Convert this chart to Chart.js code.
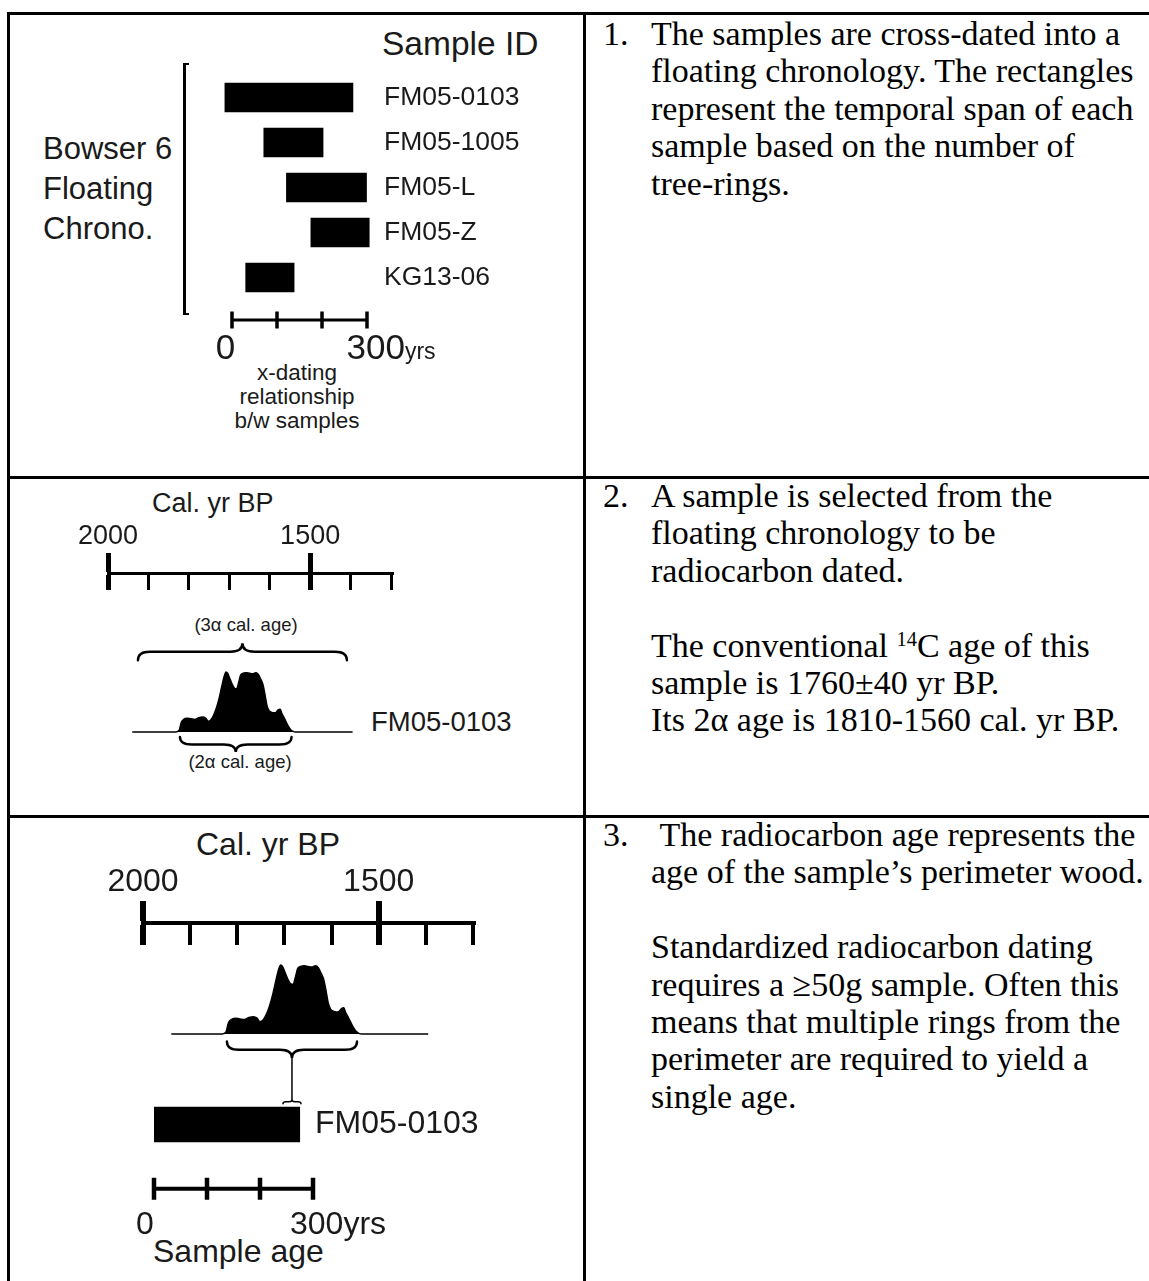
<!DOCTYPE html>
<html lang="en">
<head>
<meta charset="utf-8">
<title>Floating chronology and radiocarbon dating</title>
<script src="https://cdn.jsdelivr.net/npm/chart.js@4.4.1/dist/chart.umd.min.js"></script>
<style>
    html, body { margin: 0; padding: 0; background: #fff; }
    body {
        position: relative; width: 1149px; height: 1281px; overflow: hidden;
        font-family: "Liberation Sans", Arial, sans-serif; color: #1a1a1a;
    }
    .rule { position: absolute; background: #000; }
    .lbl { position: absolute; white-space: nowrap; line-height: 1; }
    .bracket {
        position: absolute; left: 183px; top: 63px; width: 3px; height: 248px;
        border-left: 3px solid #000; border-top: 2px solid #000; border-bottom: 2px solid #000;
    }
    .note {
        position: absolute; left: 603px; white-space: nowrap; color: #000;
        font-family: "Liberation Serif", "Times New Roman", serif; font-size: 34px; line-height: 37.4px;
    }
    .note .num { position: absolute; left: 0; top: 0; }
    .note .body { margin-left: 48px; }
    .note sup { font-size: 0.6em; line-height: 0; vertical-align: 0.55em; }
    canvas { position: absolute; }
</style>
</head>
<body>

<!-- table rules -->
<div class="rule" style="left:7px; top:12px; width:1142px; height:3px"></div>
<div class="rule" style="left:7px; top:476px; width:1142px; height:3px"></div>
<div class="rule" style="left:7px; top:815px; width:1142px; height:3px"></div>
<div class="rule" style="left:7px; top:12px; width:3px; height:1269px"></div>
<div class="rule" style="left:583px; top:12px; width:3px; height:1269px"></div>

<!-- panel 1 -->
<div class="lbl" style="left:382px; top:27px; font-size:33.5px">Sample ID</div>
<div class="lbl" style="left:43px; top:129px; font-size:31px; line-height:40px">Bowser 6<br>Floating<br>Chrono.</div>
<div class="bracket"></div>
<div class="lbl" style="left:197px; width:200px; top:361px; font-size:22.5px; line-height:24px; text-align:center">x-dating<br>relationship<br>b/w samples</div>
<canvas id="chronoChart"></canvas>
<canvas id="chronoScale"></canvas>

<!-- panel 2 -->
<div class="lbl" style="left:152px; top:490px; font-size:27px">Cal. yr BP</div>
<div class="lbl" style="left:146px; width:200px; top:616px; font-size:18.5px; text-align:center">(3α cal. age)</div>
<div class="lbl" style="left:140px; width:200px; top:753px; font-size:18.5px; text-align:center">(2α cal. age)</div>
<div class="lbl" style="left:371px; top:708px; font-size:27.5px">FM05-0103</div>
<canvas id="calAxis2"></canvas>
<canvas id="density2"></canvas>

<!-- panel 3 -->
<div class="lbl" style="left:196px; top:828px; font-size:32px">Cal. yr BP</div>
<div class="lbl" style="left:153px; top:1235px; font-size:32px">Sample age</div>
<canvas id="calAxis3"></canvas>
<canvas id="density3"></canvas>
<canvas id="focusChart"></canvas>
<canvas id="focusScale"></canvas>

<!-- notes -->
<div class="note" style="top:15px">
    <span class="num">1.</span>
    <div class="body">The samples are cross-dated into a<br>floating chronology. The rectangles<br>represent the temporal span of each<br>sample based on the number of<br>tree-rings.</div>
</div>
<div class="note" style="top:477px">
    <span class="num">2.</span>
    <div class="body">A sample is selected from the<br>floating chronology to be<br>radiocarbon dated.<br>&nbsp;<br>The conventional <sup>14</sup>C age of this<br>sample is 1760±40 yr BP.<br>Its 2α age is 1810-1560 cal. yr BP.</div>
</div>
<div class="note" style="top:816px">
    <span class="num">3.</span>
    <div class="body">&nbsp;The radiocarbon age represents the<br>age of the sample’s perimeter wood.<br>&nbsp;<br>Standardized radiocarbon dating<br>requires a ≥50g sample. Often this<br>means that multiple rings from the<br>perimeter are required to yield a<br>single age.</div>
</div>

<script>
// Floating chronology (years on the x-dating scale)
const sampleIds = ['FM05-0103', 'FM05-1005', 'FM05-L', 'FM05-Z', 'KG13-06'];
const sampleStart = [-15, 71, 121, 175, 31];
const sampleEnd = [268, 202, 298, 304, 138];

// Scale bars
const ageTicks = [0, 100, 200, 300];
const ageTickLabels = ['0', '', '', '300'];
const ageUnit = 'yrs';

// Calibrated age axis
const calMin = 1300;
const calMax = 2000;
const calStep = 100;
const calTickLabels = [2000, 1500];

// Calibrated probability of FM05-0103 (relative)
const calYears = [1940, 1832, 1824, 1819, 1813, 1805, 1795, 1785, 1775, 1766,
                  1758, 1752, 1746, 1739, 1732, 1725, 1719, 1713, 1708, 1704,
                  1699, 1693, 1687, 1682, 1677, 1672, 1666, 1658, 1650, 1642,
                  1634, 1628, 1622, 1617, 1612, 1607, 1602, 1596, 1590, 1584,
                  1579, 1574, 1570, 1565, 1560, 1554, 1548, 1542, 1536, 1395];
const calProb = [0, 0, 0.03, 0.16, 0.21, 0.23, 0.22, 0.21, 0.24, 0.25,
                 0.23, 0.18, 0.2, 0.28, 0.4, 0.57, 0.75, 0.92, 1.0, 0.98,
                 0.9, 0.8, 0.73, 0.72, 0.82, 0.95, 0.98, 0.99, 0.98, 0.97,
                 0.99, 0.96, 0.88, 0.8, 0.64, 0.45, 0.36, 0.33, 0.32, 0.33,
                 0.37, 0.38, 0.31, 0.25, 0.18, 0.1, 0.04, 0.01, 0, 0];
const sigma3Range = [1926, 1409];
const sigma2Range = [1822, 1546];

// Panel 3 sample
const focusIds = ['FM05-0103'];
const focusSpan = [0, 275];

const sans = '"Liberation Sans", Arial, sans-serif';
const ink = '#1a1a1a';

Chart.defaults.font.family = sans;
Chart.defaults.color = ink;
Chart.defaults.animation = false;
Chart.defaults.events = [];
Chart.defaults.plugins.legend.display = false;
Chart.defaults.plugins.tooltip.enabled = false;

document.addEventListener('DOMContentLoaded', function () {
    initChronologyChart();
    initScaleBar('chronoScale', { left: 232, right: 367, top: 306, bottom: 326 },
        { line: 3, tick: 3.5, half: 8.5, dy: 39, size: 35, unitSize: 23, firstDx: -6.5, lastDx: -20.5 });

    initCalAxis('calAxis2', { left: 108, right: 391, top: 573, bottom: 590 },
        { axisHeight: 60, tickUp: 20, fontSize: 27, line: 3, major: 5, minor: 3 });
    initDensity('density2', { left: 108, right: 391, top: 672, bottom: 732 },
        { left: 45, right: 10, top: 45, bottom: 30 },
        [
            { range: sigma3Range, offset: -71.7, height: -17 },
            { range: sigma2Range, offset: 5, height: 15 }
        ]);

    initCalAxis('calAxis3', { left: 143, right: 473, top: 923, bottom: 945 },
        { axisHeight: 70, tickUp: 22, fontSize: 32, line: 4, major: 6, minor: 4 });
    initDensity('density3', { left: 143, right: 473, top: 965, bottom: 1034 },
        { left: 45, right: 10, top: 10, bottom: 75 },
        [
            { range: sigma2Range, offset: 7.4, height: 16.6, stem: 41.7, cap: 18 }
        ]);
    initFocusChart();
    initScaleBar('focusScale', { left: 154, right: 313, top: 1173, bottom: 1193 },
        { line: 4, tick: 4.5, half: 11, dy: 45, size: 32, unitSize: 32, firstDx: -9, lastDx: -23 });
});

// size and position a canvas so that its chart area lands on `area`
function place(id, area, pad) {
    const c = document.getElementById(id);
    const w = area.right - area.left + pad.left + pad.right;
    const h = area.bottom - area.top + pad.top + pad.bottom;
    c.width = w;
    c.height = h;
    c.style.width = w + 'px';
    c.style.height = h + 'px';
    c.style.left = (area.left - pad.left) + 'px';
    c.style.top = (area.top - pad.top) + 'px';
    return c;
}

// horizontal bar chart with the sample ids as a right-hand category axis
function sampleBarChart(id, area, o) {
    // room above/below so the category labels do not squeeze the chart area
    const canvas = place(id, area, { left: 0, right: o.axisWidth, top: 25, bottom: 25 });

    new Chart(canvas, {
        type: 'bar',
        data: {
            labels: o.labels,
            datasets: [{
                data: o.spans,
                backgroundColor: '#000',
                borderWidth: 0,
                barThickness: o.thickness
            }]
        },
        options: {
            indexAxis: 'y',
            responsive: false,
            layout: { padding: { left: 0, right: 0, top: 25, bottom: 25 } },
            scales: {
                x: { type: 'linear', min: o.min, max: o.max, display: false },
                y: {
                    position: 'right',
                    grid: { display: false, drawTicks: false },
                    border: { display: false },
                    ticks: { color: ink, padding: o.labelGap, font: { size: o.fontSize } },
                    afterFit: function (scale) { scale.width = o.axisWidth; }
                }
            }
        }
    });
}

function initChronologyChart() {
    sampleBarChart('chronoChart', { left: 200, right: 381, top: 75, bottom: 300 }, {
        labels: sampleIds,
        spans: sampleIds.map((_, i) => [sampleStart[i], sampleEnd[i]]),
        min: -70, max: 330, thickness: 29, fontSize: 26.5, labelGap: 3, axisWidth: 150
    });
}

function initFocusChart() {
    sampleBarChart('focusChart', { left: 154, right: 313, top: 1102, bottom: 1147 }, {
        labels: focusIds,
        spans: [focusSpan],
        min: 0, max: 300, thickness: 35, fontSize: 32, labelGap: 2, axisWidth: 180
    });
}

// labels under a scale bar: "0" ... "300yrs"
const ageLabelPlugin = {
    id: 'ageLabels',
    afterDatasetsDraw(chart, args, o) {
        const { ctx, scales: { x, y } } = chart;
        const base = y.getPixelForValue(0.5) + o.dy;
        ctx.save();
        ctx.fillStyle = ink;
        ctx.textBaseline = 'alphabetic';
        ageTicks.forEach((v, i) => {
            const txt = ageTickLabels[i];
            if (!txt) return;
            const px = x.getPixelForValue(v);
            ctx.font = o.size + 'px ' + sans;
            if (i === 0) {
                ctx.textAlign = 'center';
                ctx.fillText(txt, px + o.firstDx, base);
            } else {
                ctx.textAlign = 'left';
                const sx = px + o.lastDx;
                ctx.fillText(txt, sx, base);
                const w = ctx.measureText(txt).width;
                ctx.font = o.unitSize + 'px ' + sans;
                ctx.fillText(ageUnit, sx + w, base);
            }
        });
        ctx.restore();
    }
};

function initScaleBar(id, area, o) {
    const pad = { left: 30, right: 90, top: 4, bottom: 50 };
    const canvas = place(id, area, pad);

    new Chart(canvas, {
        type: 'scatter',
        data: {
            datasets: [{
                data: ageTicks.map(v => ({ x: v, y: 0.5 })),
                showLine: true,
                borderColor: '#000',
                borderWidth: o.line,
                pointStyle: 'line',
                pointRotation: 90,
                pointRadius: o.half,
                pointBorderWidth: o.tick,
                pointBorderColor: '#000',
                clip: false
            }]
        },
        options: {
            responsive: false,
            layout: { padding: pad },
            plugins: { ageLabels: o },
            scales: {
                x: { type: 'linear', min: 0, max: 300, display: false },
                y: { min: 0, max: 1, display: false }
            }
        },
        plugins: [ageLabelPlugin]
    });
}

function initCalAxis(id, area, o) {
    const isMajor = c => c.tick && calTickLabels.includes(c.tick.value);
    const canvas = place(id, area, { left: 45, right: 10, top: o.axisHeight, bottom: 2 });

    new Chart(canvas, {
        type: 'scatter',
        data: { datasets: [] },
        options: {
            responsive: false,
            layout: { padding: { left: 45, right: 10, top: 0, bottom: 2 } },
            scales: {
                x: {
                    type: 'linear',
                    position: 'top',
                    reverse: true,
                    min: calMin,
                    max: calMax,
                    afterFit: function (scale) { scale.height = o.axisHeight; },
                    ticks: {
                        stepSize: calStep,
                        autoSkip: false,
                        maxRotation: 0,
                        padding: 0,
                        color: ink,
                        font: { size: o.fontSize },
                        callback: v => calTickLabels.includes(v) ? String(v) : ''
                    },
                    grid: {
                        drawOnChartArea: true,
                        drawTicks: true,
                        tickLength: o.tickUp,
                        color: '#000',
                        lineWidth: c => isMajor(c) ? o.major : o.minor,
                        tickWidth: c => isMajor(c) ? o.major : o.minor,
                        tickColor: c => isMajor(c) ? '#000' : 'rgba(0,0,0,0)'
                    },
                    border: { display: true, color: '#000', width: o.line }
                },
                y: { min: 0, max: 1, display: false }
            }
        }
    });
}

// horizontal curly brace; h > 0 points the tip downward
function drawBrace(ctx, x1, x2, y0, h) {
    const xm = (x1 + x2) / 2;
    const ym = y0 + h / 2;
    const q = Math.min(12, (x2 - x1) / 6);
    ctx.beginPath();
    ctx.moveTo(x1, y0);
    ctx.quadraticCurveTo(x1, ym, x1 + q, ym);
    ctx.lineTo(xm - q, ym);
    ctx.quadraticCurveTo(xm, ym, xm, y0 + h);
    ctx.quadraticCurveTo(xm, ym, xm + q, ym);
    ctx.lineTo(x2 - q, ym);
    ctx.quadraticCurveTo(x2, ym, x2, y0);
    ctx.stroke();
}

function bracePlugin(items) {
    return {
        id: 'braces',
        afterDatasetsDraw(chart) {
            const { ctx, scales: { x, y } } = chart;
            const base = y.getPixelForValue(0);
            ctx.save();
            ctx.strokeStyle = '#000';
            ctx.lineCap = 'round';
            items.forEach(b => {
                const x1 = x.getPixelForValue(b.range[0]);
                const x2 = x.getPixelForValue(b.range[1]);
                const y0 = base + b.offset;
                ctx.lineWidth = 2.4;
                drawBrace(ctx, x1, x2, y0, b.height);
                if (b.stem) {
                    const xm = (x1 + x2) / 2;
                    const ys = y0 + b.height + b.stem;
                    ctx.lineWidth = 1.5;
                    ctx.beginPath();
                    ctx.moveTo(xm, y0 + b.height);
                    ctx.lineTo(xm, ys);
                    ctx.stroke();
                    drawBrace(ctx, xm - b.cap / 2, xm + b.cap / 2, ys + 4, -4);
                }
            });
            ctx.restore();
        }
    };
}

function initDensity(id, area, pad, braces) {
    const canvas = place(id, area, pad);

    new Chart(canvas, {
        type: 'line',
        data: {
            datasets: [{
                data: calYears.map((yr, i) => ({ x: yr, y: calProb[i] })),
                borderColor: '#000',
                backgroundColor: '#000',
                borderWidth: 1.4,
                fill: 'origin',
                pointRadius: 0,
                cubicInterpolationMode: 'monotone',
                clip: false
            }]
        },
        options: {
            responsive: false,
            layout: { padding: pad },
            scales: {
                x: { type: 'linear', min: calMin, max: calMax, reverse: true, display: false },
                y: { min: 0, max: 1, display: false }
            }
        },
        plugins: [bracePlugin(braces)]
    });
}
</script>
</body>
</html>
